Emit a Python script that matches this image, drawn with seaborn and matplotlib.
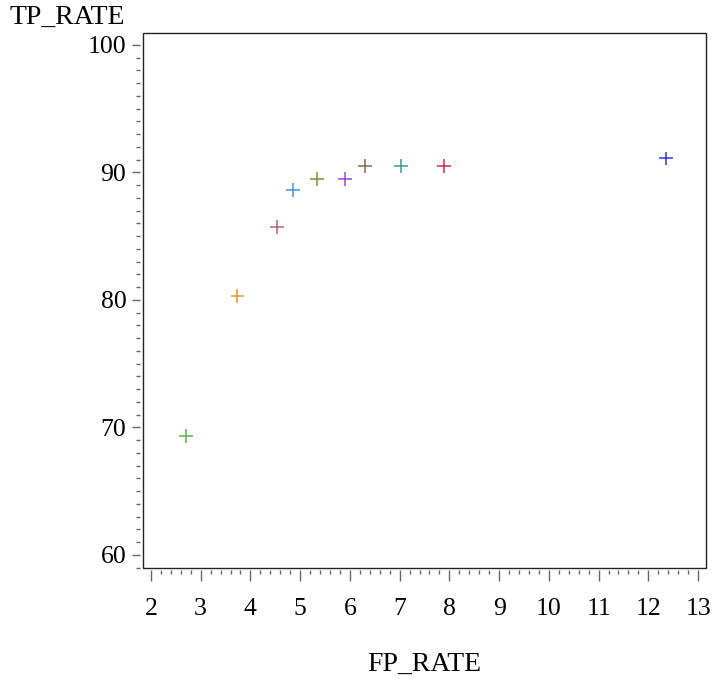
import matplotlib
matplotlib.use("Agg")
import matplotlib.pyplot as plt
from matplotlib import font_manager
from matplotlib.patches import Rectangle
from matplotlib.ticker import MultipleLocator
import seaborn as sns
import pandas as pd

# Data
fp_rate = [2.70, 3.74, 4.54, 4.86, 5.34, 5.90, 6.30, 7.02, 7.89, 12.36]
tp_rate = [69.3, 80.3, 85.7, 88.6, 89.5, 89.5, 90.5, 90.5, 90.5, 91.1]
group = ["g1", "g2", "g3", "g4", "g5", "g6", "g7", "g8", "g9", "g10"]
colors = ["#5fb346", "#e8962e", "#b0607e", "#4a8ee0", "#8a8c35",
          "#9a4ad6", "#87694a", "#3d9693", "#d42a45", "#3535e6"]

df = pd.DataFrame({"FP_RATE": fp_rate, "TP_RATE": tp_rate, "grp": group})

sns.set_style("white")

# find a Times-like serif font
serif = None
for f in font_manager.fontManager.ttflist:
    if "liberationserif-regular" in f.fname.lower().replace(" ", ""):
        font_manager.fontManager.addfont(f.fname)
        serif = f.name
        break
if serif is None:
    for f in font_manager.fontManager.ttflist:
        if "Liberation Serif" in f.name:
            serif = f.name
            break
plt.rcParams['font.family'] = [serif or 'DejaVu Serif', 'DejaVu Serif']
plt.rcParams['text.color'] = 'black'

fig = plt.figure(figsize=(7.12, 6.83), dpi=100)
ax = fig.add_axes([0.2008, 0.1688, 0.7908, 0.7829])

sns.scatterplot(data=df, x="FP_RATE", y="TP_RATE", hue="grp", palette=colors,
                marker="+", s=100, linewidth=1.1, legend=False, ax=ax)

ax.set_xlim(1.84, 13.16)
ax.set_ylim(59.0, 100.94)
ax.xaxis.set_major_locator(MultipleLocator(1))
ax.xaxis.set_minor_locator(MultipleLocator(0.2))
ax.yaxis.set_major_locator(MultipleLocator(10))
ax.yaxis.set_minor_locator(MultipleLocator(1))

# ticks hang slightly outside the frame
for side in ["left", "bottom"]:
    ax.spines[side].set_position(("outward", 2))
for side in ax.spines:
    ax.spines[side].set_visible(False)
ax.add_patch(Rectangle((0, 0), 1, 1, transform=ax.transAxes, fill=False,
                       edgecolor="#222222", linewidth=1.0, clip_on=False))

ax.tick_params(axis="both", which="both", direction="out", color="#666666",
               width=1.0, labelsize=18.5, labelcolor="black", bottom=True, left=True)
ax.tick_params(axis="x", which="major", length=8, pad=12)
ax.tick_params(axis="x", which="minor", length=3)
ax.tick_params(axis="y", which="major", length=6, pad=4)
ax.tick_params(axis="y", which="minor", length=3)
ax.grid(False)

ax.set_xlabel("")
ax.set_ylabel("")
fig.text(0.5965, 0.027, "FP_RATE", ha="center", va="center", fontsize=20)
fig.text(0.014, 0.974, "TP_RATE", ha="left", va="center", fontsize=20)

fig.savefig("out.png", dpi=100)
